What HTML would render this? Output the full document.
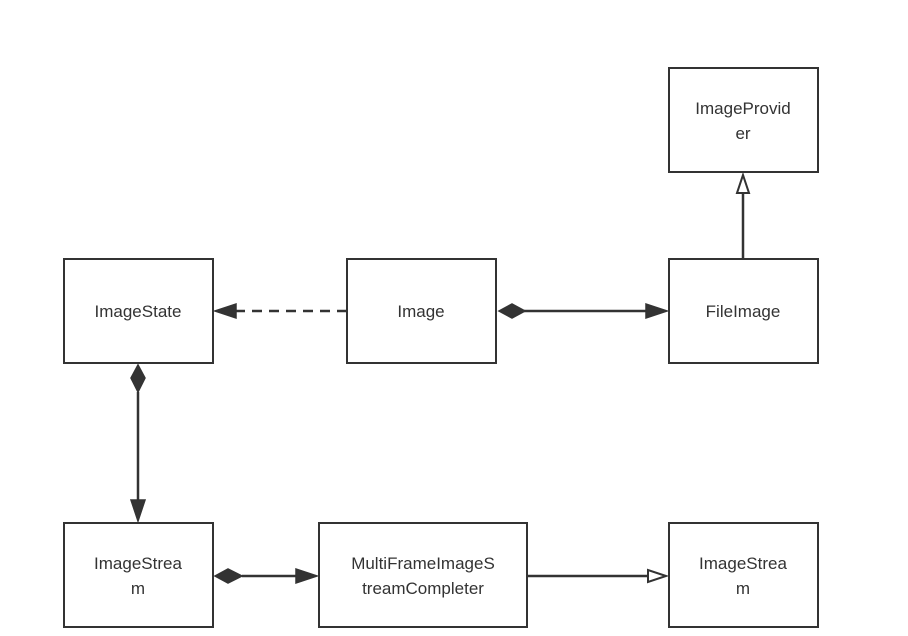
<!DOCTYPE html>
<html><head><meta charset="utf-8"><style>
html,body{margin:0;padding:0;background:#fff;}
svg{display:block;}
text{font-family:"Liberation Sans","Noto Sans CJK SC",sans-serif;font-size:17px;fill:#333;text-anchor:middle;}
</style></head><body>
<svg width="908" height="636" viewBox="0 0 908 636" xmlns="http://www.w3.org/2000/svg">
<g fill="#fff" stroke="#333" stroke-width="2">
<rect x="669" y="68" width="149" height="104"/>
<rect x="64" y="259" width="149" height="104"/>
<rect x="347" y="259" width="149" height="104"/>
<rect x="669" y="259" width="149" height="104"/>
<rect x="64" y="523" width="149" height="104"/>
<rect x="319" y="523" width="208" height="104"/>
<rect x="669" y="523" width="149" height="104"/>
</g>
<g stroke="#333" stroke-width="2.5" fill="none">
<line x1="347" y1="311" x2="232" y2="311" stroke-dasharray="10,7"/>
<line x1="524" y1="311" x2="650" y2="311"/>
<line x1="743" y1="259" x2="743" y2="192"/>
<line x1="138" y1="392" x2="138" y2="505"/>
<line x1="242" y1="576" x2="300" y2="576"/>
<line x1="527" y1="576" x2="650" y2="576"/>
</g>
<g fill="#333" stroke="#333" stroke-width="1.5">
<polygon points="215,311 236,304 236,318"/>
<polygon points="499,311 512,304 525,311 512,318"/>
<polygon points="667,311 646,304 646,318"/>
<polygon points="138,365 131,378 138,392 145,378"/>
<polygon points="138,521 131,500 145,500"/>
<polygon points="215,576 228,569 242,576 228,583"/>
<polygon points="317,576 296,569 296,583"/>
</g>
<g fill="#fff" stroke="#333" stroke-width="2">
<polygon points="743,175 737,193 749,193"/>
<polygon points="666,576 648,570 648,582"/>
</g>
<text x="743" y="114">ImageProvid</text>
<text x="743" y="139">er</text>
<text x="138" y="317">ImageState</text>
<text x="421" y="317">Image</text>
<text x="743" y="317">FileImage</text>
<text x="138" y="569">ImageStrea</text>
<text x="138" y="594">m</text>
<text x="423" y="569">MultiFrameImageS</text>
<text x="423" y="594">treamCompleter</text>
<text x="743" y="569">ImageStrea</text>
<text x="743" y="594">m</text>
</svg>
</body></html>
